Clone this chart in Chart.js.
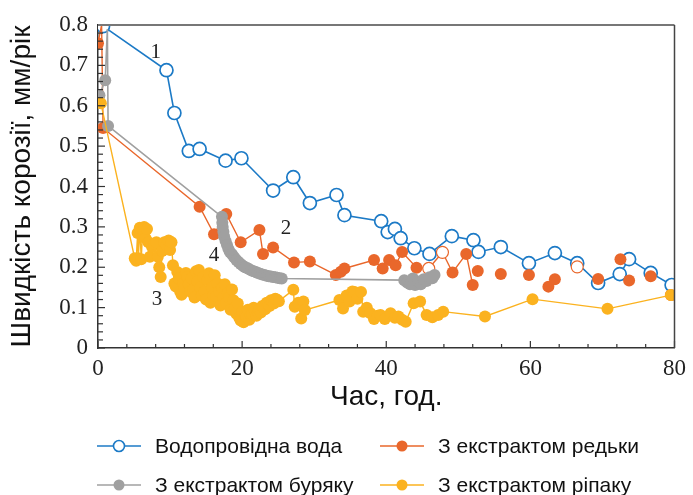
<!DOCTYPE html>
<html>
<head>
<meta charset="utf-8">
<script src="https://cdn.jsdelivr.net/npm/chart.js@4"></script>
<style>
body{margin:0;background:#fff;}
#wrap{position:relative;width:693px;height:495px;}
.leg{position:absolute;font-family:"Liberation Sans",Arial,sans-serif;font-size:21px;color:#111;display:flex;align-items:center;white-space:nowrap;}
.leg svg{margin-right:14px;}
</style>
</head>
<body>
<div id="wrap">
<canvas id="MyChart" width="693" height="495"></canvas>
<div class="leg" style="left:97px;top:434px"><svg width="44" height="14"><line x1="0" y1="7" x2="44" y2="7" stroke="#1c7ac6" stroke-width="1.6"/><circle cx="22" cy="7" r="5.5" fill="#fff" stroke="#1c7ac6" stroke-width="1.6"/></svg>Водопровідна вода</div>
<div class="leg" style="left:380px;top:434px"><svg width="44" height="14"><line x1="0" y1="7" x2="44" y2="7" stroke="#e9672b" stroke-width="1.6"/><circle cx="22" cy="7" r="5.5" fill="#e9672b"/></svg>З екстрактом редьки</div>
<div class="leg" style="left:97px;top:473px"><svg width="44" height="14"><line x1="0" y1="7" x2="44" y2="7" stroke="#a0a0a0" stroke-width="1.6"/><circle cx="22" cy="7" r="5.5" fill="#a0a0a0"/></svg>З екстрактом буряку</div>
<div class="leg" style="left:380px;top:473px"><svg width="44" height="14"><line x1="0" y1="7" x2="44" y2="7" stroke="#fbb21f" stroke-width="1.6"/><circle cx="22" cy="7" r="5.5" fill="#fbb21f"/></svg>З екстрактом ріпаку</div>
</div>
<script>
// дані: час (год) і швидкість корозії (мм/рік)
const hoursWater = [0.7,9.5,10.6,12.6,14.1,17.7,19.9,24.3,27.1,29.4,33.1,34.2,39.3,40.2,41.2,42.0,43.9,46.0,49.1,52.1,52.8,55.9,59.8,63.4,66.5,69.4,72.4,73.7,76.7,79.6]
const rateWater = [0.797,0.688,0.582,0.488,0.493,0.464,0.47,0.39,0.423,0.359,0.379,0.329,0.314,0.287,0.295,0.272,0.247,0.233,0.277,0.267,0.238,0.25,0.21,0.235,0.21,0.161,0.183,0.22,0.186,0.156]

const hoursRadish = [0.0,0.5,0.7,14.1,16.1,17.8,19.8,22.4,22.9,24.3,27.2,29.4,33.0,33.7,34.2,38.3,39.5,40.4,41.3,42.2,44.2,45.9,47.8,49.2,51.1,52.0,52.7,55.9,59.8,62.5,63.4,66.5,69.4,72.5,73.7,76.7,79.5]
const rateRadish = [0.755,0.80,0.545,0.350,0.282,0.332,0.262,0.292,0.233,0.249,0.212,0.214,0.181,0.189,0.197,0.218,0.197,0.218,0.205,0.238,0.199,0.197,0.237,0.187,0.233,0.156,0.191,0.183,0.181,0.152,0.170,0.201,0.171,0.220,0.167,0.178,0.131]
const openRadish = [21,22,31]   // порожні кружки
const lastLinkedRadish = 25     // далі точки без лінії

const hoursBeet = [0.2,1.0,1.3,1.4,17.2,17.25,17.3,17.4,17.5,17.7,17.9,18.1,18.3,18.6,18.9,19.2,19.5,19.8,20.1,20.4,20.7,21.0,21.3,21.6,21.9,22.2,22.5,22.8,23.1,23.4,23.7,24.0,24.3,24.6,24.9,25.2,25.5,42.5,42.9,43.3,43.7,44.0,44.4,44.8,45.2,45.6,46.0,46.4,46.7]
const rateBeet = [0.626,0.663,0.79,0.55,0.325,0.31,0.30,0.288,0.276,0.265,0.255,0.245,0.238,0.232,0.225,0.218,0.213,0.208,0.204,0.200,0.198,0.195,0.192,0.190,0.188,0.186,0.184,0.182,0.181,0.179,0.178,0.177,0.176,0.175,0.174,0.173,0.172,0.168,0.162,0.158,0.172,0.156,0.165,0.158,0.170,0.166,0.175,0.173,0.181]

const hoursRape = [0.4,5.1,5.3,5.5,5.6,5.8,6.0,6.2,6.4,6.6,6.8,7.0,7.2,7.5,7.8,8.1,8.3,8.5,8.7,8.9,9.2,9.5,9.8,10.0,10.2,
  10.4,10.6,10.8,11.0,11.2,11.4,11.6,11.8,12.0,12.2,12.4,12.6,12.8,13.0,13.2,13.4,13.6,13.8,14.0,14.2,14.4,14.6,14.8,15.0,15.2,15.4,15.6,15.8,16.0,16.2,16.4,16.6,16.8,
  17.0,17.2,17.4,17.6,17.8,18.0,18.2,18.4,18.6,18.8,19.0,19.2,19.4,19.6,19.8,20.0,20.2,20.4,20.6,20.8,21.0,21.2,21.4,21.6,21.8,22.0,22.2,22.4,22.6,22.8,
  23.0,23.2,23.4,23.6,23.8,24.0,24.2,24.4,24.6,24.8,25.1,
  27.1,27.3,27.8,28.2,28.5,28.7,33.5,34.0,34.5,34.9,35.3,35.6,36.0,36.5,36.8,37.3,37.8,38.3,38.8,39.2,39.8,40.6,41.2,41.7,42.2,42.7,43.8,44.7,45.6,46.4,47.2,47.9,53.7,60.3,70.7,79.5]
const rateRape = [0.606,0.222,0.216,0.285,0.222,0.298,0.220,0.292,0.300,0.272,0.295,0.262,0.226,0.250,0.258,0.262,0.226,0.200,0.176,0.240,0.262,0.255,0.266,0.243,0.262,
  0.205,0.160,0.152,0.188,0.172,0.140,0.132,0.160,0.150,0.186,0.176,0.158,0.140,0.172,0.145,0.125,0.190,0.165,0.193,0.150,0.130,0.176,0.140,0.120,0.168,0.185,0.112,0.150,0.130,0.180,0.128,0.160,0.140,
  0.105,0.150,0.125,0.158,0.112,0.135,0.125,0.095,0.145,0.118,0.100,0.085,0.110,0.075,0.068,0.090,0.064,0.080,0.078,0.095,0.070,0.082,0.084,0.100,0.090,0.080,0.088,0.095,0.088,0.104,
  0.100,0.096,0.112,0.110,0.104,0.118,0.115,0.110,0.122,0.120,0.116,
  0.144,0.102,0.112,0.073,0.115,0.094,0.119,0.098,0.130,0.115,0.140,0.139,0.122,0.139,0.090,0.100,0.086,0.072,0.080,0.082,0.072,0.086,0.075,0.078,0.070,0.065,0.111,0.115,0.082,0.076,0.082,0.090,0.078,0.121,0.097,0.131]

const xTicks = [0,20,40,60,80]
const curveLabels = [['1',8.0,0.733],['2',26.1,0.295],['3',8.2,0.119],['4',16.1,0.23]]

const BLUE='#1c7ac6', ORANGE='#e9672b', GRAY='#a0a0a0', YELLOW='#fbb21f'
const pts = (xs, ys) => xs.map((x,i) => ({x:x, y:ys[i]}))

// рамка, внутрішні риски і номери кривих
const framePlugin = {
  id:'frame',
  afterDraw(chart){
    const c = chart.ctx, a = chart.chartArea, sx = chart.scales.x, sy = chart.scales.y
    c.save()
    c.strokeStyle = '#333'; c.lineWidth = 1.2
    for (let t = 0; t <= 80; t += 4){
      const px = sx.getPixelForValue(t), len = t % 20 === 0 ? 7 : 4
      c.beginPath(); c.moveTo(px, a.bottom); c.lineTo(px, a.bottom - len); c.stroke()
    }
    for (let k = 0; k <= 40; k++){
      const py = sy.getPixelForValue(k*0.02), len = k % 5 === 0 ? 7 : 5
      c.beginPath(); c.moveTo(a.left, py); c.lineTo(a.left + len, py); c.stroke()
    }
    c.strokeStyle = '#777'; c.lineWidth = 2
    c.beginPath(); c.moveTo(a.left, a.top); c.lineTo(a.right, a.top); c.stroke()
    c.strokeStyle = '#444'; c.lineWidth = 1.5
    c.beginPath(); c.moveTo(a.right, a.top); c.lineTo(a.right, a.bottom); c.stroke()
    c.fillStyle = '#222'; c.font = '21px "Liberation Serif"'
    c.textAlign = 'center'; c.textBaseline = 'middle'
    curveLabels.forEach(l => c.fillText(l[0], sx.getPixelForValue(l[1]), sy.getPixelForValue(l[2])))
    c.restore()
  }
}

new Chart(document.getElementById('MyChart'), {
  type:'scatter',
  data:{datasets:[
    {label:'З екстрактом ріпаку', data:pts(hoursRape, rateRape), showLine:true, borderColor:YELLOW, borderWidth:1.4,
      pointBackgroundColor:YELLOW, pointBorderWidth:0, pointRadius:6, order:1},
    {label:'З екстрактом буряку', data:pts(hoursBeet, rateBeet), showLine:true, borderColor:GRAY, borderWidth:1.6,
      pointBackgroundColor:GRAY, pointBorderWidth:0, pointRadius: ctx => ctx.dataIndex === 2 ? 0 : 6, order:2},
    {label:'З екстрактом редьки', data:pts(hoursRadish, rateRadish), showLine:true, borderColor:ORANGE, borderWidth:1.4,
      pointBackgroundColor: ctx => openRadish.includes(ctx.dataIndex) ? '#fff' : ORANGE,
      pointBorderColor:ORANGE, pointBorderWidth: ctx => openRadish.includes(ctx.dataIndex) ? 1.2 : 0,
      pointRadius: ctx => ctx.dataIndex === 1 ? 0 : 6,
      segment:{borderColor: ctx => ctx.p0DataIndex >= lastLinkedRadish ? 'rgba(0,0,0,0)' : ORANGE}, order:3},
    {label:'Водопровідна вода', data:pts(hoursWater, rateWater), showLine:true, borderColor:BLUE, borderWidth:1.6,
      pointBackgroundColor:'#fff', pointBorderColor:BLUE, pointBorderWidth:1.7, pointRadius:6.5, order:4}
  ]},
  options:{
    responsive:false, animation:false,
    layout:{padding:{left:0, right:13, top:25, bottom:77}},
    plugins:{legend:{display:false}, tooltip:{enabled:false}},
    scales:{
      x:{type:'linear', min:0, max:80,
        afterBuildTicks: s => { s.ticks = xTicks.map(v => ({value:v})) },
        afterFit: s => { s.height = 70 },
        grid:{display:false, drawTicks:false},
        border:{display:true, color:'#333', width:1.5},
        ticks:{padding:7, color:'#222', font:{family:'Liberation Serif', size:23}},
        title:{display:true, text:'Час, год.', color:'#111', padding:{top:0, bottom:4}, font:{family:'Liberation Sans', size:28}}},
      y:{min:0, max:0.8,
        afterFit: s => { s.width = 98 },
        grid:{display:false, drawTicks:false},
        border:{display:true, color:'#333', width:1.5},
        ticks:{stepSize:0.1, padding:10, color:'#222', font:{family:'Liberation Serif', size:23}},
        title:{display:true, text:'Швидкість корозії, мм/рік', color:'#111', padding:{top:5, bottom:0}, font:{family:'Liberation Sans', size:28}}}
    }
  },
  plugins:[framePlugin]
})
</script>
</body>
</html>
